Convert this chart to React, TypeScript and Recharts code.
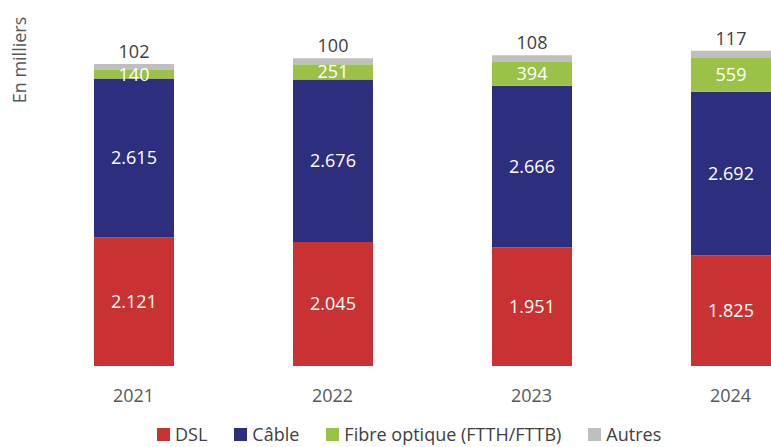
import React from 'react';
import { BarChart, Bar, XAxis, YAxis, LabelList } from 'recharts';

const years = ['2021', '2022', '2023', '2024'];
const dsl = [2121, 2045, 1951, 1825];
const cable = [2615, 2676, 2666, 2692];
const fibre = [140, 251, 394, 559];
const autres = [102, 100, 108, 117];

const seriesNames = ['DSL', 'Câble', 'Fibre optique (FTTH/FTTB)', 'Autres'];
const seriesKeys = ['dsl', 'cable', 'fibre', 'autres'];
const seriesColors = ['#c93232', '#2e2e7e', '#9bc246', '#bfbfbf'];

const data = years.map((y, i) => ({
  year: y,
  dsl: dsl[i],
  cable: cable[i],
  fibre: fibre[i],
  autres: autres[i],
}));

const FONT = '"Open Sans", sans-serif';
const fmt = (v: any) => Number(v).toLocaleString('de-DE');

export default function App() {
  return (
    <div
      style={{
        position: 'fixed',
        left: 0,
        top: 0,
        width: 771,
        height: 447,
        overflow: 'hidden',
        background: '#fff',
        fontFamily: FONT,
      }}
    >
      <BarChart
        width={830}
        height={447}
        data={data}
        margin={{ top: 31, right: 0, left: 34, bottom: 51 }}
        barSize={80}
      >
        <XAxis
          dataKey="year"
          axisLine={false}
          tickLine={false}
          tickSize={0}
          tickMargin={23}
          height={30}
          tick={{ fill: '#595959', fontSize: 18, fontFamily: FONT }}
        />
        <YAxis hide domain={[0, 5520]} />
        {seriesKeys.map((k, i) => (
          <Bar
            key={k}
            dataKey={k}
            stackId="a"
            fill={seriesColors[i]}
            isAnimationActive={false}
          >
            {k === 'autres' ? (
              <LabelList
                dataKey={k}
                position="top"
                offset={6}
                formatter={fmt}
                style={{ fill: '#404040', fontSize: 18, fontFamily: FONT }}
              />
            ) : (
              <LabelList
                dataKey={k}
                position="center"
                formatter={fmt}
                style={{ fill: '#ffffff', fontSize: 18, fontFamily: FONT }}
              />
            )}
          </Bar>
        ))}
      </BarChart>
      <div
        style={{
          position: 'absolute',
          left: 19,
          top: 60,
          transform: 'translate(-50%, -50%) rotate(-90deg)',
          whiteSpace: 'nowrap',
          color: '#595959',
          fontSize: 18,
        }}
      >
        En milliers
      </div>
      <div
        style={{
          position: 'absolute',
          top: 422,
          left: 157,
          display: 'flex',
          alignItems: 'center',
          color: '#404040',
          fontSize: 18,
          whiteSpace: 'nowrap',
          lineHeight: '24px',
          height: 24,
        }}
      >
        {seriesNames.map((n, i) => (
          <div
            key={n}
            style={{ display: 'flex', alignItems: 'center', marginRight: i === 3 ? 0 : 27 }}
          >
            <span
              style={{
                display: 'inline-block',
                width: 13,
                height: 13,
                background: seriesColors[i],
                marginRight: 5,
              }}
            />
            <span>{n}</span>
          </div>
        ))}
      </div>
    </div>
  );
}
